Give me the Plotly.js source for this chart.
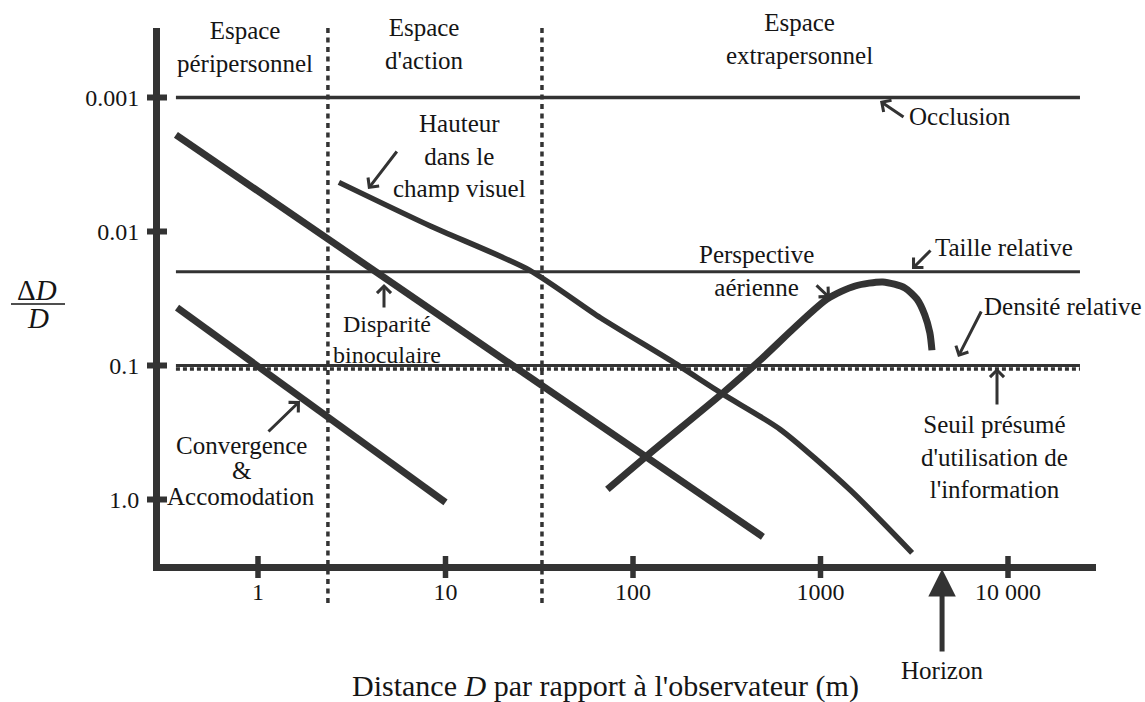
<!DOCTYPE html>
<html><head><meta charset="utf-8">
<script src="https://cdn.plot.ly/plotly-3.0.1.min.js"></script>
<style>html,body{margin:0;padding:0;background:#fff}#chart{width:1145px;height:702px}</style>
</head><body><div id="chart"></div>
<script>
// ---- data ----
const xTickVals = [1, 10, 100, 1000, 10000];
const xTickText = ['1', '10', '100', '1000', '10 000'];
const yTickVals = [0.001, 0.01, 0.1, 1];
const yTickText = ['0.001', '0.01', '0.1', '1.0'];
const zoneBounds = [2.36, 32.7];
const horizonDistance = 4450;

const occlusionX = [0.365, 24200];
const occlusionY = [0.001, 0.001];
const tailleX = [0.365, 24200];
const tailleY = [0.02, 0.02];
const densiteX = [0.365, 24200];
const densiteY = [0.1, 0.1];
const seuilX = [0.365, 24200];
const seuilY = [0.1, 0.1];
const convergenceX = [0.37, 10];
const convergenceY = [0.037, 1.05];
const disparityX = [0.365, 493];
const disparityY = [0.0019, 1.9];
const hauteurX = [2.7, 8.3, 28, 67, 163, 300, 610, 1440, 3080];
const hauteurY = [0.0043, 0.0091, 0.0194, 0.044, 0.094, 0.163, 0.30, 0.85, 2.5];
const perspectiveX = [73, 119, 302, 458, 1083, 1530, 2150, 2820, 3270, 3600, 3830, 3930];
const perspectiveY = [0.84, 0.47, 0.16, 0.096, 0.032, 0.0255, 0.0238, 0.0264, 0.032, 0.042, 0.057, 0.077];

// ---- geometry / style ----
const L = 160, T = 28, W = 936, H = 536, FW = 1145, FH = 702;
const FONT = 'Liberation Serif';
const INK = '#333333', TXT = '#151515';
const px = v => (v - L) / W;
const py = v => (T + H - v) / H;
const yRange = [(T + H - 97.5) / 134 - 3, (T - 97.5) / 134 - 3];
const scallopShift = 3.5 / 134;

function lineTrace(x, y, w, shape, extra) {
  return Object.assign({x: x, y: y, type: 'scatter', mode: 'lines', hoverinfo: 'skip', showlegend: false,
          line: {color: INK, width: w, shape: shape || 'linear', smoothing: 0.7}}, extra || {});
}
const traces = [
  lineTrace(occlusionX, occlusionY, 3.5),
  lineTrace(tailleX, tailleY, 3),
  lineTrace(seuilX, seuilY, 3.5, 'linear', {yaxis: 'y2', line: {color: INK, width: 3.5, dash: '4px,3px'}}),
  lineTrace(densiteX, densiteY, 3),
  lineTrace(convergenceX, convergenceY, 7),
  lineTrace(disparityX, disparityY, 7),
  lineTrace(hauteurX, hauteurY, 5.5, 'spline'),
  lineTrace(perspectiveX, perspectiveY, 7, 'spline')
];

const shapes = [];
zoneBounds.forEach(b => shapes.push({type: 'line', xref: 'x', yref: 'paper', x0: b, x1: b,
  y0: py(603), y1: py(25), line: {color: INK, width: 3.5, dash: '5px,4.5px'}}));
xTickVals.forEach(v => shapes.push({type: 'line', xref: 'x', yref: 'paper', x0: v, x1: v,
  y0: py(578), y1: py(556), line: {color: INK, width: 5.5}}));
yTickVals.forEach(v => shapes.push({type: 'line', xref: 'paper', yref: 'y', x0: px(147), x1: px(167),
  y0: v, y1: v, line: {color: INK, width: 6}}));
// fraction bar of y label
shapes.push({type: 'line', xref: 'paper', yref: 'paper', x0: px(11), x1: px(65), y0: py(304), y1: py(304),
  line: {color: TXT, width: 1.5}});

function txt(text, x, y, size, extra) {
  return Object.assign({text: text, xref: 'paper', yref: 'paper', x: px(x), y: py(y),
    xanchor: 'center', yanchor: 'middle', showarrow: false, align: 'center',
    font: {family: FONT, size: size || 25, color: TXT}}, extra || {});
}
function arrow(tail, tip, w, head, size) {
  return {text: '', xref: 'paper', yref: 'paper', x: px(tip[0]), y: py(tip[1]),
    ax: tail[0] - tip[0], ay: tail[1] - tip[1], showarrow: true,
    arrowcolor: INK, arrowwidth: w || 3, arrowhead: head || 4, arrowsize: size || 0.9};
}
const annotations = [
  txt('Espace<br>péripersonnel', 245, 47),
  txt("Espace<br>d'action", 424, 44),
  txt('Espace<br>extrapersonnel', 799, 39),
  txt('Occlusion', 960, 117),
  txt('Taille relative', 1004, 247),
  txt('Hauteur<br>dans le<br>champ visuel', 459, 156),
  txt('Perspective<br>aérienne', 756, 271),
  txt('Densité relative', 1063, 307),
  txt("Seuil présumé<br>d'utilisation de<br>l'information", 994, 457),
  txt('Disparité<br>binoculaire', 387, 339, 24),
  txt('Convergence', 241, 445),
  txt('&', 241, 470),
  txt('Accomodation', 241, 496),
  txt('Horizon', 942, 670),
  txt("Distance <i>D</i> par rapport à l'observateur (m)", 605, 686, 30),
  txt('Δ<i>D</i>', 37, 290, 29),
  txt('<i>D</i>', 38, 318, 29),
  arrow([905, 118], [880, 101]),
  arrow([932, 249], [912, 269]),
  arrow([398, 150], [368, 189]),
  arrow([815, 284], [830, 298]),
  arrow([982, 310], [958, 357]),
  arrow([997, 406], [997, 368]),
  arrow([384, 309], [384, 284]),
  arrow([267, 433], [300, 401]),
  {text: '', xref: 'x', yref: 'paper', x: Math.log10(horizonDistance), y: py(569),
   ax: 0, ay: 84, showarrow: true, arrowcolor: INK, arrowwidth: 5, arrowhead: 2, arrowsize: 1.1}
];

const layout = {
  width: FW, height: FH, paper_bgcolor: '#fff', plot_bgcolor: '#fff',
  margin: {l: L, r: FW - L - W, t: T, b: FH - T - H, pad: 0},
  showlegend: false,
  font: {family: FONT, color: TXT},
  xaxis: {type: 'log', range: [(L - 258) / 187.5, (L + W - 258) / 187.5],
    showline: true, linewidth: 7, linecolor: INK, showgrid: false, zeroline: false,
    tickvals: xTickVals, ticktext: xTickText, ticks: '',
    tickfont: {family: FONT, size: 24, color: TXT}, fixedrange: true},
  yaxis: {type: 'log', range: yRange,
    showline: true, linewidth: 7, linecolor: INK, showgrid: false, zeroline: false,
    tickvals: yTickVals, ticktext: yTickText, ticks: 'outside', ticklen: 9,
    tickcolor: 'rgba(0,0,0,0)', tickfont: {family: FONT, size: 24, color: TXT}, fixedrange: true},
  yaxis2: {type: 'log', overlaying: 'y', visible: false, fixedrange: true,
    range: [yRange[0] - scallopShift, yRange[1] - scallopShift]},
  shapes: shapes,
  annotations: annotations
};
Plotly.newPlot('chart', traces, layout, {displayModeBar: false, staticPlot: true});
</script>
</body></html>
